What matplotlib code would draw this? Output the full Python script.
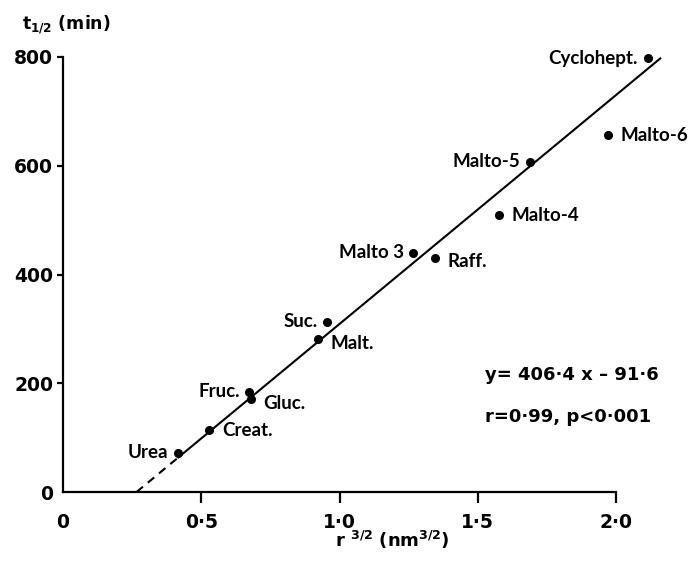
#!/usr/bin/env python3
import matplotlib
matplotlib.use("Agg")
import matplotlib.pyplot as plt
import numpy as np

# r^(3/2) (nm^3/2) and t1/2 (min)
names = ["Urea", "Creat.", "Fruc.", "Gluc.", "Malt.", "Suc.", "Malto 3",
         "Raff.", "Malto-4", "Malto-5", "Malto-6", "Cyclohept."]
r32 = [0.417, 0.529, 0.674, 0.680, 0.923, 0.956, 1.267,
       1.344, 1.578, 1.689, 1.972, 2.115]
t_half = [72, 114, 184, 171, 281, 313, 440,
          431, 509, 607, 656, 798]

# which side each label sits on
label_side = ["left", "right", "left", "right", "right", "left", "left",
              "right", "right", "left", "right", "left"]

# regression line as drawn
line_slope = 421.0
line_icpt = -112.0
line_xmax = 2.16

xticks = [0, 0.5, 1.0, 1.5, 2.0]
xtick_labels = ["0", "0·5", "1·0", "1·5", "2·0"]
yticks = [0, 200, 400, 600, 800]
ytick_labels = ["0", "200", "400", "600", "800"]

plt.rcParams["font.family"] = ["Lato", "DejaVu Sans"]
plt.rcParams["font.weight"] = "bold"
num_font = ["DejaVu Sans"]

W, H = 689, 569
fig = plt.figure(figsize=(W / 100, H / 100), dpi=100)
ax = fig.add_axes([63 / W, 1 - 492 / H, (616 - 63) / W, (492 - 57) / H])

ax.set_xlim(0, 2.0)
ax.set_ylim(0, 800)
for s in ["top", "right"]:
    ax.spines[s].set_visible(False)
for s in ["left", "bottom"]:
    ax.spines[s].set_linewidth(1.6)

ax.set_xticks(xticks)
ax.set_xticklabels(xtick_labels, family=num_font, fontsize=13.5)
ax.set_yticks(yticks)
ax.set_yticklabels(ytick_labels, family=num_font, fontsize=13.5)
ax.tick_params(axis="x", direction="out", length=8, width=1.6, pad=7)
ax.tick_params(axis="y", direction="out", length=4, width=1.6, pad=3)
ax.xaxis.get_major_ticks()[0].tick1line.set_visible(False)
ax.yaxis.get_major_ticks()[0].tick1line.set_visible(False)

# fit line: dashed below the first point, solid above
x0 = -line_icpt / line_slope
xd = np.array([x0, min(r32)])
ax.plot(xd, line_slope * xd + line_icpt, color="black", lw=1.5,
        linestyle=(0, (4, 3)), clip_on=False)
xs = np.array([min(r32), line_xmax])
ax.plot(xs, line_slope * xs + line_icpt, color="black", lw=1.5, clip_on=False)

ax.plot(r32, t_half, "o", color="black", markersize=5.5, clip_on=False)

for n, x, y, side in zip(names, r32, t_half, label_side):
    if side == "left":
        off, ha = -7, "right"
    else:
        off, ha = 9, "left"
    dy = -3 if n in ("Gluc.", "Malt.", "Raff.") else 0
    ax.annotate(n, (x, y), xytext=(off, dy), textcoords="offset points",
                ha=ha, va="center", fontsize=13.5, annotation_clip=False)

ax.text(1.526, 215, "y= 406·4 x – 91·6", family=num_font, fontsize=13, va="center")
ax.text(1.526, 138, "r=0·99, p<0·001", family=num_font, fontsize=13, va="center")

fig.text(22 / W, 1 - 25 / H, r"t$_{1/2}$ (min)", family=num_font, fontsize=12.5,
         va="center")
fig.text(335 / W, 1 - 540 / H, r"r $^{3/2}$ (nm$^{3/2}$)", family=num_font,
         fontsize=13, va="center")

fig.savefig("out.png", dpi=100)
